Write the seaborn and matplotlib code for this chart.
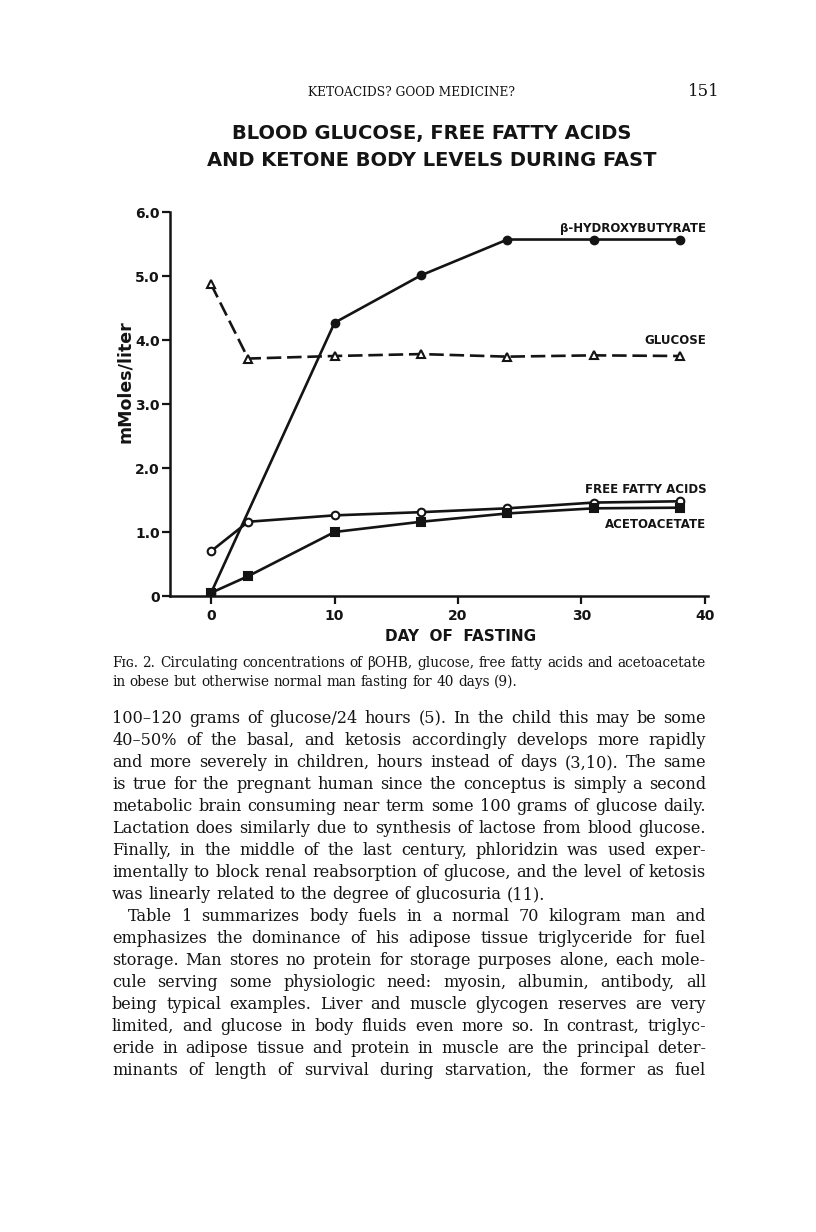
import numpy as np
import pandas as pd
import matplotlib
matplotlib.use('Agg')
import matplotlib.pyplot as plt
import seaborn as sns

# ── data ─────────────────────────────────────────────────────
days = [0, 3, 10, 17, 24, 31, 38]
bohb_days = [0, 10, 17, 24, 31, 38]
bohb = [0.05, 4.27, 5.01, 5.57, 5.57, 5.57]
glucose = [4.87, 3.71, 3.75, 3.78, 3.74, 3.76, 3.75]
ffa = [0.70, 1.16, 1.26, 1.31, 1.37, 1.46, 1.48]
acetoacetate = [0.05, 0.31, 1.00, 1.16, 1.29, 1.37, 1.38]

y_ticks = [0, 1, 2, 3, 4, 5, 6]
y_ticklabels = ['0', '1.0', '2.0', '3.0', '4.0', '5.0', '6.0']
x_ticks = [0, 10, 20, 30, 40]

header = 'KETOACIDS? GOOD MEDICINE?'
page_no = '151'
title_lines = ['BLOOD GLUCOSE, FREE FATTY ACIDS', 'AND KETONE BODY LEVELS DURING FAST']
series_labels = ['\u03b2-HYDROXYBUTYRATE', 'GLUCOSE', 'FREE FATTY ACIDS', 'ACETOACETATE']
series_label_y = [5.75, 4.0, 1.66, 1.12]

caption = ['F\u026a\u0262. 2. Circulating concentrations of \u03b2OHB, glucose, free fatty acids and acetoacetate',
           'in obese but otherwise normal man fasting for 40 days (9).']
body = [
    '100\u2013120 grams of glucose/24 hours (5). In the child this may be some',
    '40\u201350% of the basal, and ketosis accordingly develops more rapidly',
    'and more severely in children, hours instead of days (3,10). The same',
    'is true for the pregnant human since the conceptus is simply a second',
    'metabolic brain consuming near term some 100 grams of glucose daily.',
    'Lactation does similarly due to synthesis of lactose from blood glucose.',
    'Finally, in the middle of the last century, phloridzin was used exper-',
    'imentally to block renal reabsorption of glucose, and the level of ketosis',
    'was linearly related to the degree of glucosuria (11).',
    'Table 1 summarizes body fuels in a normal 70 kilogram man and',
    'emphasizes the dominance of his adipose tissue triglyceride for fuel',
    'storage. Man stores no protein for storage purposes alone, each mole-',
    'cule serving some physiologic need: myosin, albumin, antibody, all',
    'being typical examples. Liver and muscle glycogen reserves are very',
    'limited, and glucose in body fluids even more so. In contrast, triglyc-',
    'eride in adipose tissue and protein in muscle are the principal deter-',
    'minants of length of survival during starvation, the former as fuel',
]

INK = '#141414'
SERIF = ['DejaVu Serif', 'DejaVu Sans']
W, H = 816, 1232
X0, X1 = 112, 706

sns.set_style('ticks')
plt.rcParams['font.family'] = ['DejaVu Sans']

fig = plt.figure(figsize=(W / 100, H / 100), dpi=100)
fig.patch.set_facecolor('white')
renderer = fig.canvas.get_renderer()


def fy(px):
    return 1 - px / H


# ── chart ────────────────────────────────────────────────────
ax = fig.add_axes([170 / W, fy(596), 538 / W, 384 / H])
line_kw = dict(color=INK, linewidth=1.9, markeredgewidth=1.5,
               markeredgecolor=INK, ax=ax, legend=False)

sns.lineplot(x=bohb_days, y=bohb, marker='o', markersize=5.5,
             markerfacecolor=INK, **line_kw)
sns.lineplot(x=days, y=glucose, marker='^', markersize=6, markerfacecolor='white',
             linestyle=(0, (5.5, 2.2)), **line_kw)
sns.lineplot(x=days, y=ffa, marker='o', markersize=5.5, markerfacecolor='white',
             **line_kw)
sns.lineplot(x=days, y=acetoacetate, marker='s', markersize=6, markerfacecolor=INK,
             **line_kw)

ax.set_xlim(-3.33, 40.25)
ax.set_ylim(0, 6.0)
ax.set_xticks(x_ticks)
ax.set_xticklabels([str(t) for t in x_ticks])
ax.set_yticks(y_ticks)
ax.set_yticklabels(y_ticklabels)
ax.tick_params(axis='both', direction='out', length=5.5, width=1.6, colors=INK,
               labelsize=10)
ax.tick_params(axis='x', pad=4)
ax.tick_params(axis='y', pad=2)
for lab in ax.get_xticklabels() + ax.get_yticklabels():
    lab.set_fontweight('bold')
sns.despine(ax=ax)
for s in ['left', 'bottom']:
    ax.spines[s].set_linewidth(1.8)
    ax.spines[s].set_color(INK)
ax.set_facecolor('none')

ax.set_ylabel('mMoles/liter', fontsize=12.5, fontweight='bold', color=INK)
ax.yaxis.set_label_coords(-0.066, 0.557)
ax.set_xlabel('DAY  OF  FASTING', fontsize=11, fontweight='bold', color=INK)
ax.xaxis.set_label_coords(0.541, -0.085)

for lab, yv in zip(series_labels, series_label_y):
    ax.text(40.1, yv, lab, ha='right', va='center', fontsize=8.5,
            fontweight='bold', color=INK)

# ── titles ───────────────────────────────────────────────────
fig.text(412 / W, fy(92), header, ha='center', va='center', fontsize=8.8,
         family=SERIF, color=INK)
fig.text(720 / W, fy(92), page_no, ha='right', va='center', fontsize=12,
         family=SERIF, color=INK)
for i, t in enumerate(title_lines):
    fig.text(432 / W, fy(133 + 28 * i), t, ha='center', va='center',
             fontsize=14, fontweight='bold', color=INK)


# ── justified serif text ─────────────────────────────────────
def word_widths(text, size):
    objs = [fig.text(0, 0, w, fontsize=size, family=SERIF) for w in text.split()]
    widths = [o.get_window_extent(renderer).width for o in objs]
    for o in objs:
        o.remove()
    return widths


def natural(text, size):
    ws = word_widths(text, size)
    return sum(ws) + (len(ws) - 1) * size * 100 / 72 * 0.318


def fit_size(lines, indents, ref=10.0):
    return min(ref * (X1 - X0 - ind) / natural(t, ref) for t, ind in zip(lines, indents))


def put_line(text, base_px, size, justify=True, indent=0):
    objs = [fig.text(0, fy(base_px), w, fontsize=size, family=SERIF,
                     color=INK, va='baseline', ha='left') for w in text.split()]
    widths = [o.get_window_extent(renderer).width for o in objs]
    start = X0 + indent
    if justify and len(objs) > 1:
        gap = (X1 - start - sum(widths)) / (len(objs) - 1)
    else:
        gap = size * 100 / 72 * 0.318
    x = start
    for o, w in zip(objs, widths):
        o.set_x(x / W)
        x += w + gap


cap_size = fit_size(caption[:1], [0])
put_line(caption[0], 667, cap_size)
put_line(caption[1], 686, cap_size, justify=False)

indents = [16 if i == 9 else 0 for i in range(len(body))]
just = [i != 8 for i in range(len(body))]
body_size = fit_size([t for t, j in zip(body, just) if j],
                     [d for d, j in zip(indents, just) if j])
for i, t in enumerate(body):
    put_line(t, 723 + 22 * i, body_size, justify=just[i], indent=indents[i])

fig.savefig('out.png', dpi=100, facecolor='white')
